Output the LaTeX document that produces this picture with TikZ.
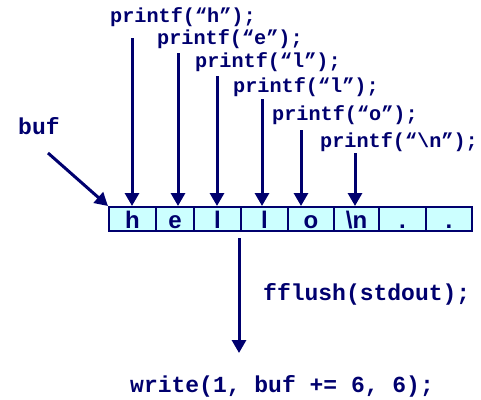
\documentclass[tikz,border=0pt]{standalone}
\usepackage{fontspec}
\setmainfont{Liberation Sans}
\newfontfamily\codefont{Liberation Mono}
\usetikzlibrary{arrows.meta}
\definecolor{navy}{RGB}{0,0,110}
\definecolor{cellfill}{RGB}{204,255,255}
\tikzset{
  code/.style={anchor=base west,inner sep=0pt,text=navy,font=\codefont\bfseries\fontsize{20.2}{20}\selectfont},
  bigcode/.style={anchor=base west,inner sep=0pt,text=navy,font=\codefont\bfseries\fontsize{23}{23}\selectfont},
  cell/.style={draw=navy,line width=2pt,fill=cellfill,minimum height=24pt,inner sep=0pt,text height=18pt,text depth=0pt,anchor=north west,text=navy,font=\bfseries\fontsize{24}{24}\selectfont},
  arr/.style={draw=navy,line width=3pt,-{Triangle[length=13pt,width=14pt]}},
}
\begin{document}
\begin{tikzpicture}[x=1pt,y=-1pt]
\useasboundingbox (0,0) rectangle (481,399);
% cells
\node[cell,minimum width=47pt] (c1) at (108,206) {h};
\node[cell,minimum width=38pt] (c2) at (155,206) {e};
\node[cell,minimum width=47pt] (c3) at (193,206) {l};
\node[cell,minimum width=47pt] (c4) at (240,206) {l};
\node[cell,minimum width=46pt] (c5) at (287,206) {o};
\node[cell,minimum width=45pt] (c6) at (333,206) {\textbackslash n};
\node[cell,minimum width=47pt] (c7) at (378,206) {.};
\node[cell,minimum width=46pt] (c8) at (425,206) {.};
% texts
\node[code] (p1) at (110,22) {printf(“h”);};
\node[code] (p2) at (157,44) {printf(“e”);};
\node[code] (p3) at (195,67) {printf(“l”);};
\node[code] (p4) at (233,92) {printf(“l”);};
\node[code] (p5) at (272,120) {printf(“o”);};
\node[code] (p6) at (320,147) {printf(“\textbackslash n”);};
\node[bigcode] (buf) at (18,134) {buf};
\node[bigcode] (ff) at (263,300) {fflush(stdout);};
\node[bigcode] (wr) at (130,392) {write(1, buf += 6, 6);};
% arrow starts
\coordinate (s1) at (132,38);
\coordinate (s2) at (178,53);
\coordinate (s3) at (217,76);
\coordinate (s4) at (262,99);
\coordinate (s5) at (301,130);
\coordinate (s6) at (355,153);
\coordinate (sb) at (48,153);
\coordinate (f1) at (239,238);
\coordinate (f2) at (239,353);
\draw[arr] (s1) -- (s1 |- c1.north);
\draw[arr] (s2) -- (s2 |- c2.north);
\draw[arr] (s3) -- (s3 |- c3.north);
\draw[arr] (s4) -- (s4 |- c4.north);
\draw[arr] (s5) -- (s5 |- c5.north);
\draw[arr] (s6) -- (s6 |- c6.north);
\draw[arr] (sb) -- (c1.north west);
\draw[arr] (f1) -- (f2);
\end{tikzpicture}
\end{document}
